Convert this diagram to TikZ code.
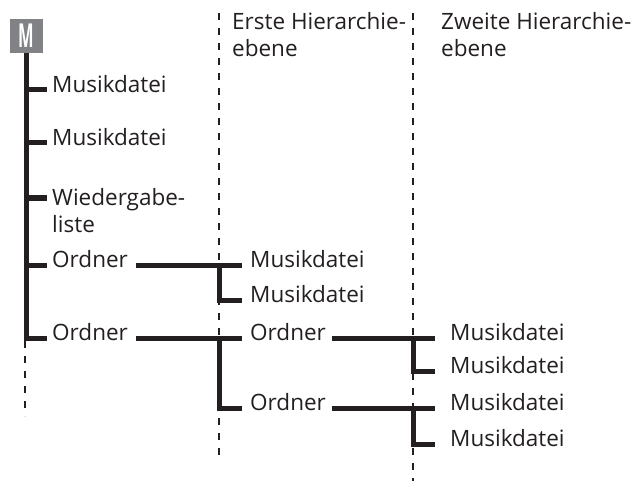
\documentclass[tikz,border=0pt]{standalone}
\usepackage{fontspec}
\setmainfont{Open Sans}
\usepackage{graphicx}
\definecolor{ink}{HTML}{231F20}
\definecolor{rootgray}{HTML}{808285}
\begin{document}
\begin{tikzpicture}[x=1pt, y=-1pt,
    entry/.style={anchor=mid west, inner sep=0pt, text=ink,
      font=\fontsize{22.5}{27}\selectfont},
    branch/.style={line width=5pt, draw=ink},
    level/.style={line width=1.7pt, draw=ink, dash pattern=on 7pt off 8pt}]
    \useasboundingbox (0,0) rectangle (634,481);

    % Positions of the level separators
    \coordinate (sep0) at (25,0);
    \coordinate (sep1) at (219,0);
    \coordinate (sep2) at (413,0);

    % Dashed separators between the levels
    \draw[level] (25,341) -- (25,416);
    \draw[level] (219,13) -- (219,456);
    \draw[level] (413,13) -- (413,481);

    % Headers of the levels (base is the last line)
    \node[entry, anchor=base west, align=left] (head1) at (232,57) {Erste Hierarchie-\\ebene};
    \node[entry, anchor=base west, align=left] (head2) at (441,57) {Zweite Hierarchie-\\ebene};

    % Root box
    \node[fill=rootgray, minimum width=33pt, minimum height=34pt, inner sep=0pt,
      text=white] (root) at (26,36) {\fontsize{33}{33}\selectfont\bfseries\scalebox{0.5}[1]{M}};

    % Top level entries
    \node[entry] (file1) at (52,90) {Musikdatei};
    \node[entry] (file2) at (52,143) {Musikdatei};
    \node[entry, anchor=base west, align=left] (list) at (52,232) {Wiedergabe-\\liste};
    \node[entry] (dirA) at (52,265) {Ordner};
    \node[entry] (dirB) at (52,338) {Ordner};

    % Trunk with its branches
    \draw[branch] (root.south) -- (root.south |- dirB.mid west) -- ([xshift=-5pt]dirB.mid west);
    \foreach \n in {file1,file2,dirA}
        \draw[branch] (sep0 |- \n.mid west) -- ([xshift=-5pt]\n.mid west);
    \draw[branch] ([yshift=34pt]sep0 |- list.base west) -- ([shift={(-5pt,34pt)}]list.base west);

    % First level entries
    \node[entry] (fileA1) at (250,265) {Musikdatei};
    \node[entry] (fileA2) at (250,300) {Musikdatei};
    \node[entry] (dirB1) at (250,338) {Ordner};
    \node[entry] (dirB2) at (250,408) {Ordner};

    % Forks on the first separator
    \draw[branch] ([xshift=8pt]dirA.mid east) -- ([xshift=-8pt]fileA1.mid west);
    \draw[branch] (sep1 |- fileA1.mid west) -- (sep1 |- fileA2.mid west) -- ([xshift=-8pt]fileA2.mid west);
    \draw[branch] ([xshift=8pt]dirB.mid east) -- ([xshift=-8pt]dirB1.mid west);
    \draw[branch] (sep1 |- dirB1.mid west) -- (sep1 |- dirB2.mid west) -- ([xshift=-8pt]dirB2.mid west);

    % Second level entries
    \node[entry] (fileB1) at (450,338) {Musikdatei};
    \node[entry] (fileB2) at (450,371) {Musikdatei};
    \node[entry] (fileC1) at (450,408) {Musikdatei};
    \node[entry] (fileC2) at (450,444) {Musikdatei};

    % Forks on the second separator
    \foreach \d/\a/\b in {dirB1/fileB1/fileB2, dirB2/fileC1/fileC2} {
        \draw[branch] ([xshift=6pt]\d.mid east) -- ([xshift=-15pt]\a.mid west);
        \draw[branch] (sep2 |- \a.mid west) -- (sep2 |- \b.mid west) -- ([xshift=-15pt]\b.mid west);
    }
\end{tikzpicture}
\end{document}
